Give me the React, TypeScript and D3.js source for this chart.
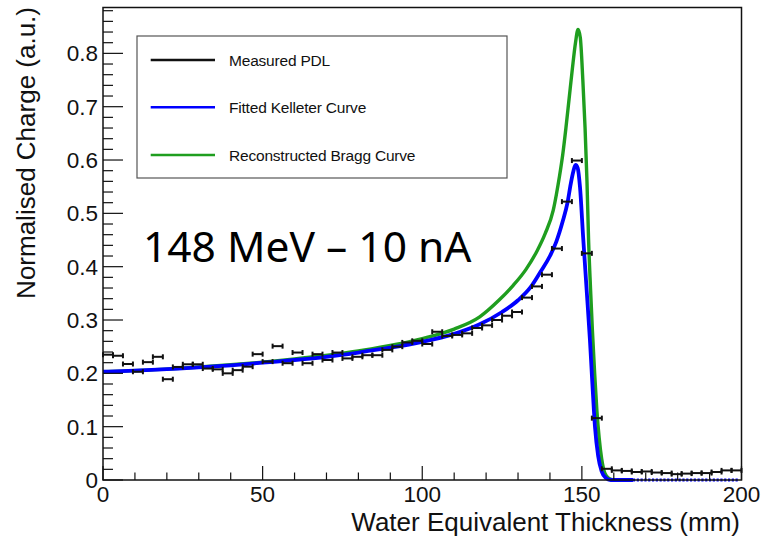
import React from 'react';
import * as d3 from 'd3';

// Measured PDL (bin centres in mm, normalised charge)
const pdlDepth = [
  1.5625, 4.6875, 7.8125, 10.9375, 14.0625, 17.1875, 20.3125, 23.4375, 26.5625, 29.6875,
  32.8125, 35.9375, 39.0625, 42.1875, 45.3125, 48.4375, 51.5625, 54.6875, 57.8125, 60.9375,
  64.0625, 67.1875, 70.3125, 73.4375, 76.5625, 79.6875, 82.8125, 85.9375, 89.0625, 92.1875,
  95.3125, 98.4375, 101.5625, 104.6875, 107.8125, 110.9375, 114.0625, 117.1875, 120.3125, 123.4375,
  126.5625, 129.6875, 132.8125, 135.9375, 139.0625, 142.1875, 145.3125, 148.4375, 151.5625, 154.6875,
  157.8125, 160.9375, 164.0625, 167.1875, 170.3125, 173.4375, 176.5625, 179.6875, 182.8125, 185.9375,
  189.0625, 192.1875, 195.3125, 198.4375,
];
const pdlCharge = [
  0.235, 0.233, 0.2175, 0.203, 0.221, 0.231, 0.189, 0.212, 0.217, 0.217,
  0.209, 0.2075, 0.2, 0.206, 0.2125, 0.236, 0.222, 0.251, 0.219, 0.239,
  0.219, 0.236, 0.225, 0.239, 0.228, 0.231, 0.234, 0.234, 0.244, 0.25,
  0.258, 0.261, 0.255, 0.278, 0.27, 0.272, 0.275, 0.285, 0.29, 0.3,
  0.308, 0.315, 0.342, 0.363, 0.385, 0.434, 0.522, 0.599, 0.425, 0.116,
  0.021, 0.018, 0.017, 0.015, 0.016, 0.014, 0.013, 0.011, 0.012, 0.013,
  0.013, 0.015, 0.018, 0.018,
];
const pdlHalfWidth = 1.5625;

// Fitted Kelleter curve
const fitDepth = [0, 10, 20, 30, 40, 50, 60, 70, 80, 90, 100, 110, 118, 125, 130, 134, 137, 140, 142, 144, 145.5, 146.5, 147.3, 148, 148.7, 149.4, 150.4, 151.5, 152.5, 153.2, 154.1, 155.1, 156.2, 157.5, 159, 166];
const fitCharge = [0.203, 0.205, 0.208, 0.211, 0.215, 0.22, 0.225, 0.231, 0.239, 0.248, 0.259, 0.274, 0.292, 0.315, 0.337, 0.362, 0.39, 0.42, 0.447, 0.485, 0.52, 0.555, 0.578, 0.591, 0.585, 0.55, 0.455, 0.356, 0.265, 0.19, 0.1, 0.045, 0.016, 0.004, 0, 0];
const fitTailDepth = [166, 199];
const fitTailCharge = [0, 0];

// Reconstructed Bragg curve
const braggDepth = [0, 20, 40, 60, 80, 100, 110, 118, 124, 128.5, 132.5, 136, 138.5, 141, 142, 143, 144, 145, 146, 147, 148, 148.8, 149.5, 150.3, 151, 151.6, 152.1, 152.7, 153.3, 154, 154.7, 155.4, 156.2, 157.2, 158.5, 160];
const braggCharge = [0.203, 0.208, 0.216, 0.227, 0.242, 0.265, 0.283, 0.306, 0.337, 0.365, 0.395, 0.43, 0.462, 0.505, 0.535, 0.57, 0.61, 0.66, 0.715, 0.77, 0.82, 0.845, 0.83, 0.75, 0.66, 0.56, 0.45, 0.36, 0.28, 0.2, 0.13, 0.08, 0.04, 0.013, 0.003, 0];

const xTicks = [0, 50, 100, 150, 200];
const xTickLabels = ['0', '50', '100', '150', '200'];
const yTicks = [0, 0.1, 0.2, 0.3, 0.4, 0.5, 0.6, 0.7, 0.8];
const yTickLabels = ['0', '0.1', '0.2', '0.3', '0.4', '0.5', '0.6', '0.7', '0.8'];
const legendLabels = ['Measured PDL', 'Fitted Kelleter Curve', 'Reconstructed Bragg Curve'];
const legendColors = ['#111111', '#0000ff', '#1f9e1f'];
const xTitle = 'Water Equivalent Thickness (mm)';
const yTitle = 'Normalised Charge (a.u.)';
const annotation = '148 MeV \u2013 10 nA';

export default function App() {
  const W = 761, H = 541;
  const left = 103, right = 741.5, top = 7.5, bottom = 480;
  const x = d3.scaleLinear().domain([0, 200]).range([left, right]);
  const y = d3.scaleLinear().domain([0, 0.886]).range([bottom, top]);
  const font = '"Liberation Sans", Arial, Helvetica, sans-serif';

  const line = d3.line<[number, number]>()
    .x(d => x(d[0]))
    .y(d => y(d[1]))
    .curve(d3.curveMonotoneX);
  const straight = d3.line<[number, number]>().x(d => x(d[0])).y(d => y(d[1]));

  const fitPts = fitDepth.map((d, i) => [d, fitCharge[i]] as [number, number]);
  const braggPts = braggDepth.map((d, i) => [d, braggCharge[i]] as [number, number]);
  const fitTailPts = fitTailDepth.map((d, i) => [d, fitTailCharge[i]] as [number, number]);

  const xMinor = d3.range(0, 201, 10).filter(v => v % 50 !== 0);
  const yMinor = d3.range(0, 0.8861, 0.02).filter(v => Math.abs(v * 10 - Math.round(v * 10)) > 1e-6);

  const legend = { x0: 137, y0: 36, x1: 507, y1: 178 };
  const legendRows = [60, 107.3, 155];

  return (
    <svg width={W} height={H} style={{ position: 'absolute', left: 0, top: 0, background: '#fff' }}>
      <rect x={0} y={0} width={W} height={H} fill="#fff" />
      {/* curves */}
      <path d={line(braggPts) || ''} fill="none" stroke="#1f9e1f" strokeWidth={3.4} />
      <path d={line(fitPts) || ''} fill="none" stroke="#0000ff" strokeWidth={3.8} />
      <path d={straight(fitTailPts) || ''} fill="none" stroke="#0000ff" strokeWidth={3} strokeDasharray="2.2,1.6" />
      {/* measured PDL */}
      <g stroke="#111" strokeWidth={2}>
        {pdlDepth.map((d, i) => {
          const x0 = x(d - pdlHalfWidth), x1 = x(d + pdlHalfWidth), yy = y(pdlCharge[i]);
          return (
            <g key={i}>
              <line x1={x0} x2={x1} y1={yy} y2={yy} />
              <line x1={x0} x2={x0} y1={yy - 2.5} y2={yy + 2.5} />
              <line x1={x1} x2={x1} y1={yy - 2.5} y2={yy + 2.5} />
            </g>
          );
        })}
      </g>
      {/* frame */}
      <rect x={left} y={top} width={right - left} height={bottom - top} fill="none" stroke="#111" strokeWidth={1.5} />
      {/* ticks */}
      <g stroke="#111" strokeWidth={1.2}>
        {xTicks.map(v => <line key={'xt' + v} x1={x(v)} x2={x(v)} y1={bottom} y2={bottom - 14} />)}
        {xMinor.map(v => <line key={'xm' + v} x1={x(v)} x2={x(v)} y1={bottom} y2={bottom - 7.5} />)}
        {yTicks.map(v => <line key={'yt' + v} x1={left} x2={left + 20} y1={y(v)} y2={y(v)} />)}
        {yMinor.map(v => <line key={'ym' + v.toFixed(2)} x1={left} x2={left + 10} y1={y(v)} y2={y(v)} />)}
      </g>
      <g fontFamily={font} fontSize={22.5} fill="#111">
        {xTicks.map((v, i) => (
          <text key={'xl' + v} x={x(v)} y={501.5} textAnchor="middle">{xTickLabels[i]}</text>
        ))}
        {yTicks.map((v, i) => (
          <text key={'yl' + v} x={98} y={y(v) + 8} textAnchor="end">{yTickLabels[i]}</text>
        ))}
      </g>
      <text x={740} y={531} textAnchor="end" fontFamily={font} fontSize={26} fill="#111">{xTitle}</text>
      <text transform="translate(35,7) rotate(-90)" textAnchor="end" fontFamily={font} fontSize={26} fill="#111">{yTitle}</text>
      {/* legend */}
      <rect x={legend.x0} y={legend.y0} width={legend.x1 - legend.x0} height={legend.y1 - legend.y0} fill="#fff" stroke="#555" strokeWidth={1.2} />
      {legendLabels.map((lab, i) => (
        <g key={lab}>
          <line x1={150.7} x2={215} y1={legendRows[i]} y2={legendRows[i]} stroke={legendColors[i]} strokeWidth={2.5} />
          <text x={229} y={legendRows[i] + 5.8} fontFamily={font} fontSize={15.5} fill="#111" letterSpacing={-0.2}>{lab}</text>
        </g>
      ))}
      <text x={143} y={261.7} fontFamily={'"Noto Sans", "Open Sans", sans-serif'} fontSize={42.5} fill="#000">{annotation}</text>
    </svg>
  );
}
